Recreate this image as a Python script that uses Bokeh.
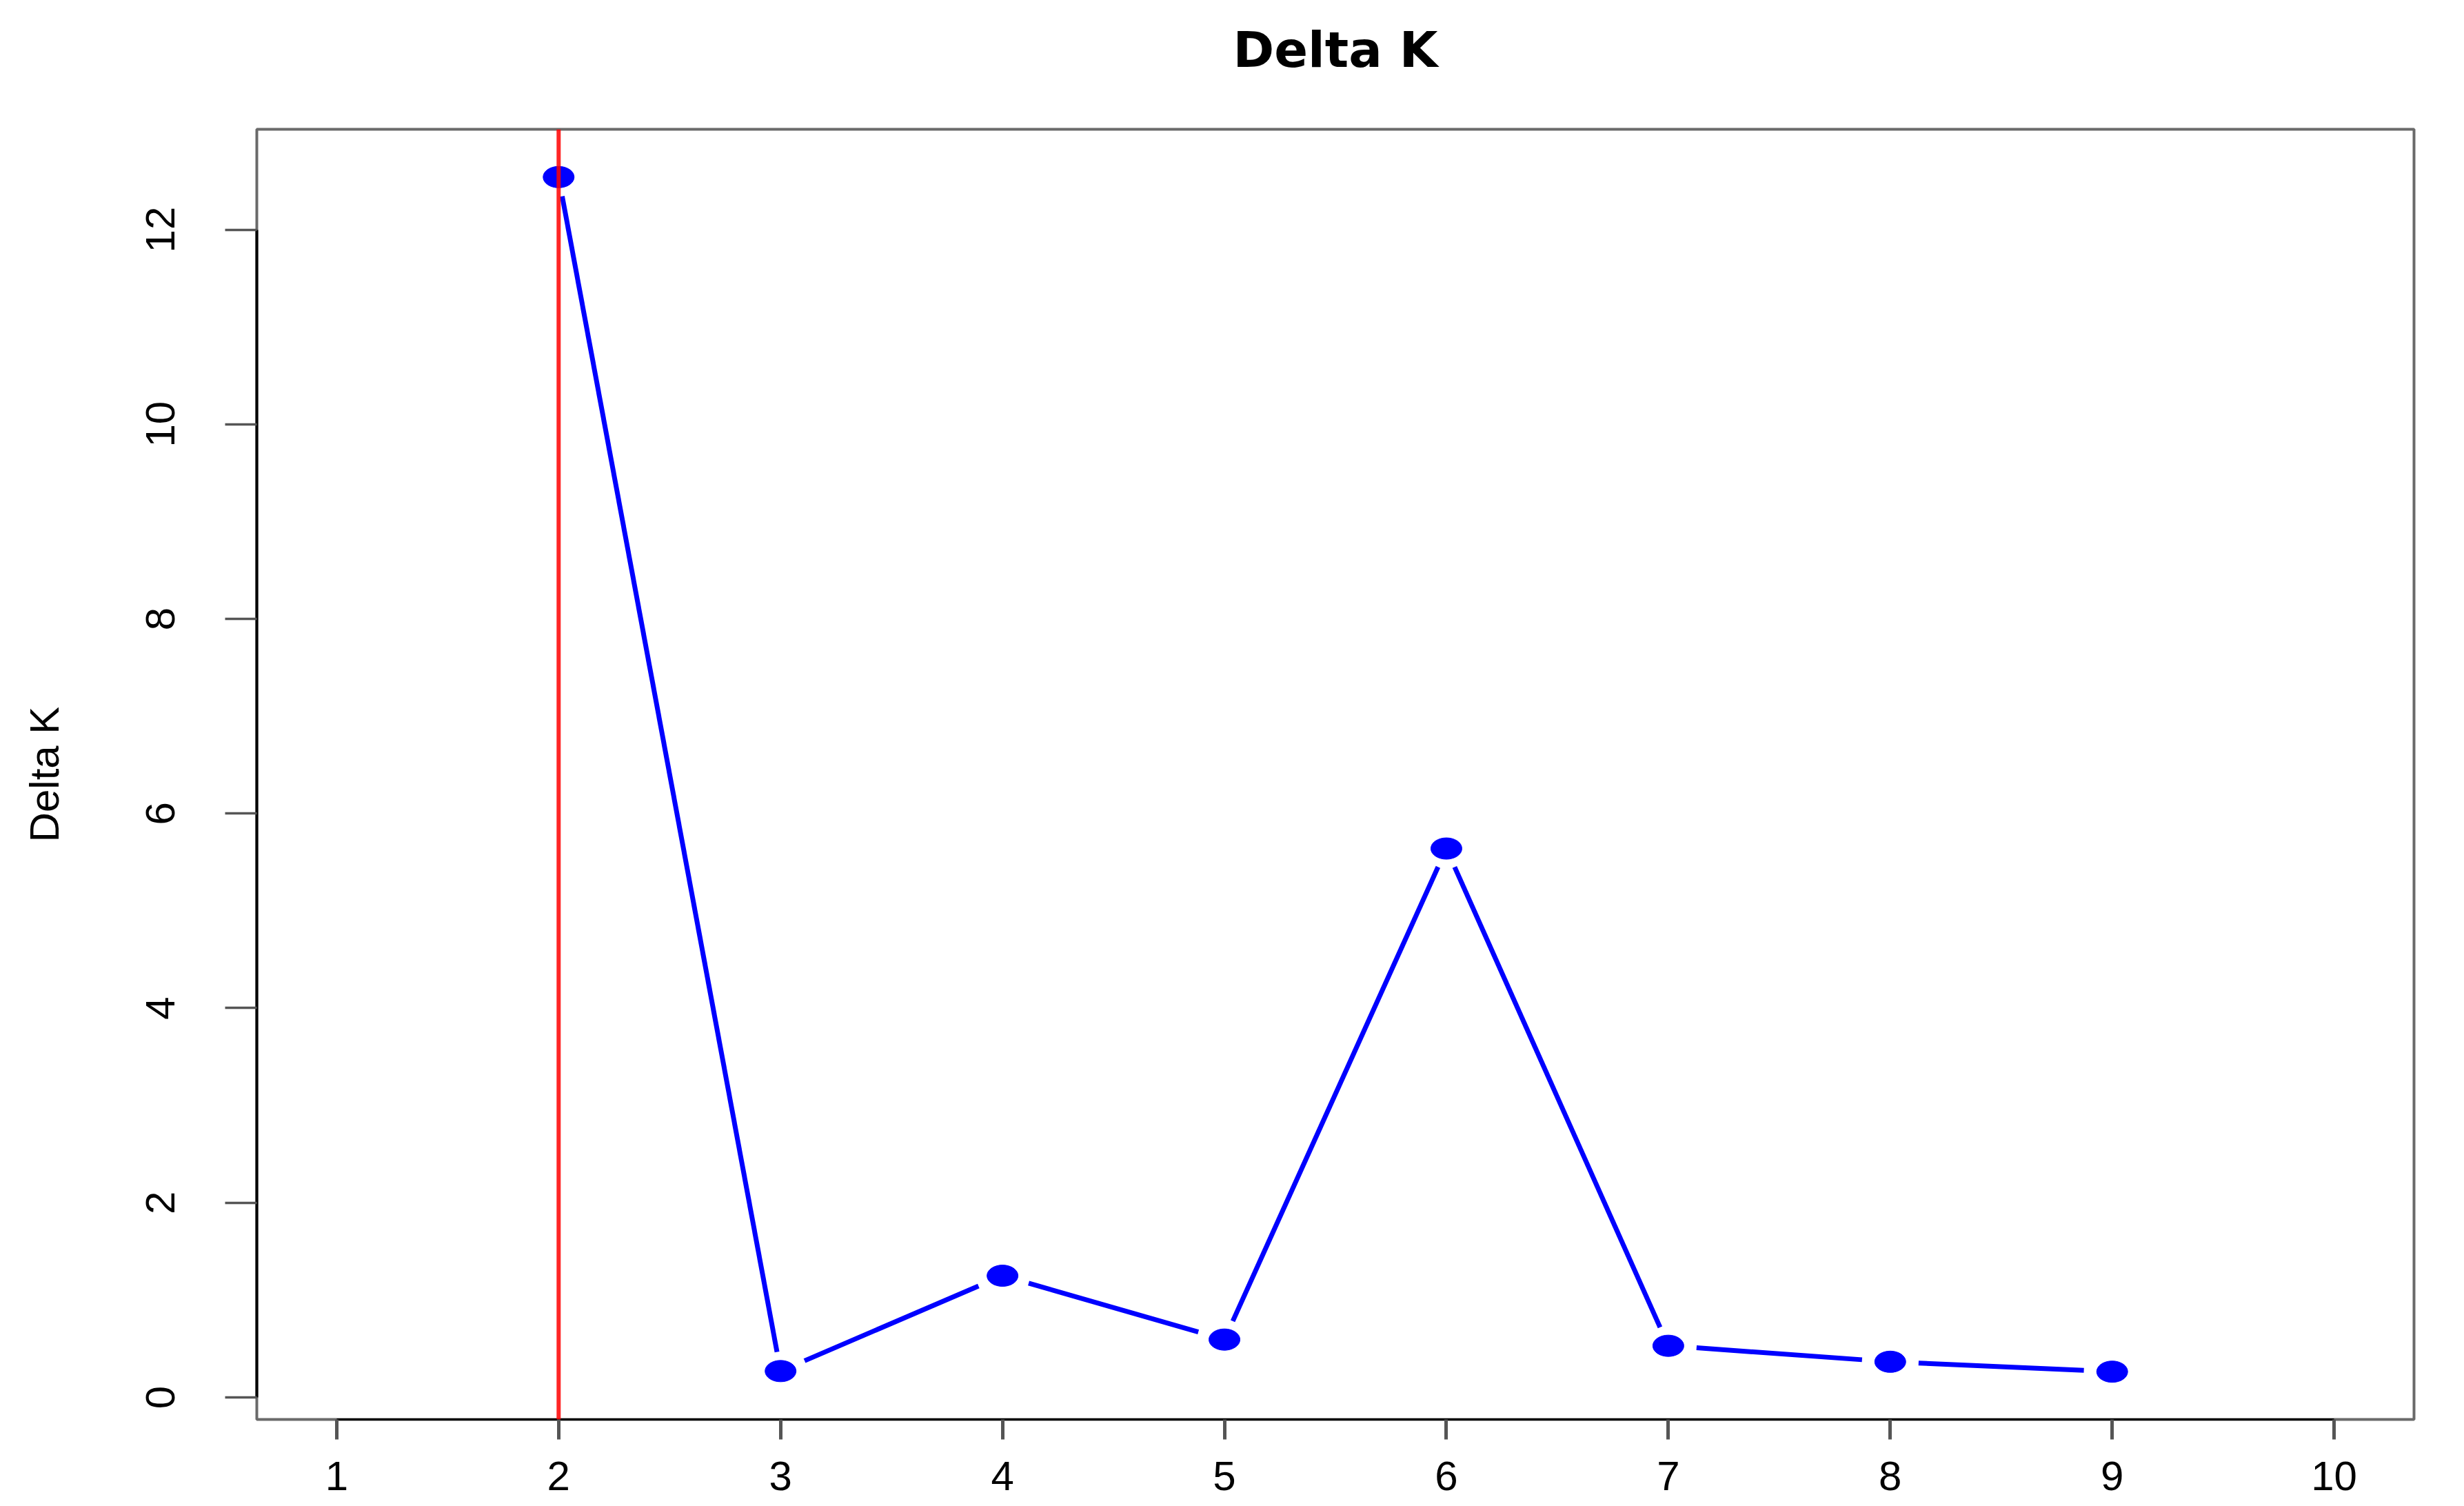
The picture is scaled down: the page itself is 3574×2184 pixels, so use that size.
import math
from bokeh.plotting import figure
from bokeh.models import Range1d, FixedTicker, Span, Title
from bokeh.embed import file_html
from bokeh.resources import INLINE

# ---- data ----
K = [2, 3, 4, 5, 6, 7, 8, 9]
delta_k = [12.54, 0.27, 1.25, 0.594, 5.64, 0.53, 0.366, 0.264]
x_ticks = [1, 2, 3, 4, 5, 6, 7, 8, 9, 10]
y_ticks = [0, 2, 4, 6, 8, 10, 12]
best_k = 2
title_text = "Delta K"
y_label = "Delta K"

# ---- layout ----
W, H = 3574, 2184
B_LEFT, B_RIGHT, B_TOP, B_BOTTOM = 372, 73, 187, 126
FW = W - B_LEFT - B_RIGHT
FH = H - B_TOP - B_BOTTOM

# R-style 4% range extension
xr = x_ticks[-1] - x_ticks[0]
x0, x1 = x_ticks[0] - 0.04 * xr, x_ticks[-1] + 0.04 * xr
yr = max(delta_k) - min(delta_k)
y0, y1 = min(delta_k) - 0.04 * yr, max(delta_k) + 0.04 * yr

p = figure(width=W, height=H, x_range=Range1d(x0, x1), y_range=Range1d(y0, y1),
           output_backend="svg", toolbar_location=None,
           min_border_left=B_LEFT, min_border_right=B_RIGHT,
           min_border_top=B_TOP, min_border_bottom=B_BOTTOM)

p.background_fill_color = "white"
p.border_fill_color = "white"
p.outline_line_color = "#6a6a6a"
p.outline_line_width = 4
p.xgrid.visible = False
p.ygrid.visible = False

# spacer (nearest the frame) then the real title above it
p.add_layout(Title(text=" ", text_font_size="10px", standoff=56), "above")
p.add_layout(Title(text=title_text, align="center", text_font="DejaVu Sans",
                   text_font_style="bold", text_font_size="72px",
                   text_color="black", standoff=10), "above")

FONT = "Liberation Sans"

# x axis
xa = p.xaxis[0]
xa.ticker = FixedTicker(ticks=x_ticks)
xa.bounds = (x_ticks[0], x_ticks[-1])
xa.axis_line_color = "black"
xa.axis_line_width = 3
xa.major_tick_in = 0
xa.major_tick_out = 29
xa.major_tick_line_width = 5
xa.major_tick_line_color = "#555555"
xa.minor_tick_in = 0
xa.minor_tick_out = 0
xa.major_label_text_font = FONT
xa.major_label_text_font_size = "60px"
xa.major_label_text_color = "black"
xa.major_label_standoff = 32

# y axis
ya = p.yaxis[0]
ya.ticker = FixedTicker(ticks=y_ticks)
ya.bounds = (y_ticks[0], y_ticks[-1])
ya.axis_line_color = "black"
ya.axis_line_width = 4
ya.major_tick_in = 0
ya.major_tick_out = 46
ya.major_tick_line_width = 3.5
ya.major_tick_line_color = "#555555"
ya.minor_tick_in = 0
ya.minor_tick_out = 0
ya.major_label_text_font = FONT
ya.major_label_text_font_size = "60px"
ya.major_label_text_color = "black"
ya.major_label_orientation = "vertical"
ya.major_label_standoff = 73
ya.axis_label = y_label
ya.axis_label_text_font = FONT
ya.axis_label_text_font_style = "normal"
ya.axis_label_text_font_size = "60px"
ya.axis_label_text_color = "black"
ya.axis_label_standoff = 112

# ---- line segments with gaps around points (R type="b") ----
sx = FW / (x1 - x0)
sy = FH / (y1 - y0)
STRETCH = 1.47   # horizontal stretch of the original device
GAP = 28.0       # gap radius in px
xs0, ys0, xs1, ys1 = [], [], [], []
for i in range(len(K) - 1):
    ax, ay, bx, by = K[i], delta_k[i], K[i + 1], delta_k[i + 1]
    dxp = (bx - ax) * sx / STRETCH
    dyp = (by - ay) * sy
    L = math.hypot(dxp, dyp)
    f = GAP / L
    if f >= 0.5:
        continue
    xs0.append(ax + f * (bx - ax)); ys0.append(ay + f * (by - ay))
    xs1.append(bx - f * (bx - ax)); ys1.append(by - f * (by - ay))

p.segment(x0=xs0, y0=ys0, x1=xs1, y1=ys1, line_color="#0000FF", line_width=7)

p.ellipse(x=K, y=delta_k, width=45, height=31, width_units="screen", height_units="screen",
          fill_color="#0000FF", line_color="#0000FF", line_width=1)

p.add_layout(Span(location=best_k, dimension="height", line_color="#FF0000",
                  line_width=6, line_alpha=0.85))

open("out.html", "w").write(file_html(p, INLINE))
